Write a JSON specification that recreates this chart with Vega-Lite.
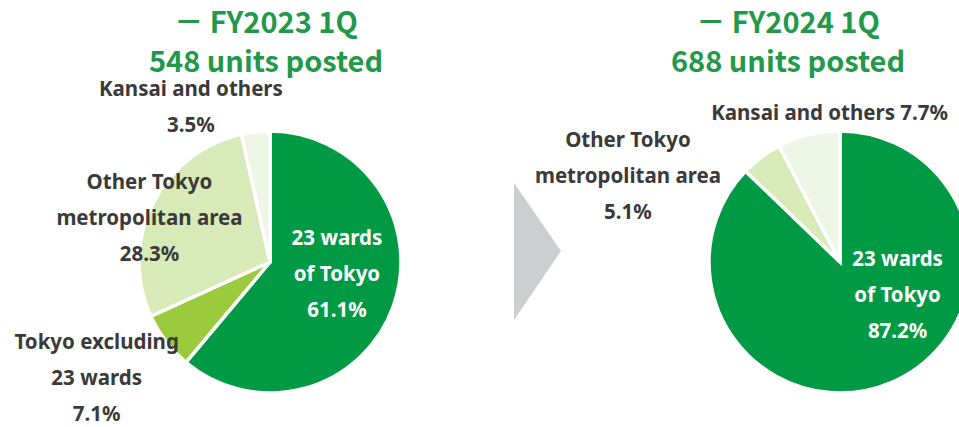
{
  "$schema": "https://vega.github.io/schema/vega-lite/v6.json",
  "width": 959,
  "height": 330,
  "padding": {"top": 97, "left": 0, "right": 0, "bottom": 0},
  "autosize": {"type": "none"},
  "background": "white",
  "config": {"view": {"stroke": null}},
  "encoding": {
    "x": {"field": "period", "type": "nominal", "axis": null,
      "scale": {"type": "point", "domain": ["FY2023 1Q", "→", "FY2024 1Q"], "range": [270, 840], "padding": 0}}
  },
  "layer": [
    {
      "data": {"values": [
        {"period": "FY2023 1Q", "region": "23 wards of Tokyo", "share": 61.1, "label": "23 wards\nof Tokyo\n61.1%"},
        {"period": "FY2023 1Q", "region": "Tokyo excluding 23 wards", "share": 7.1, "label": "Tokyo excluding\n23 wards\n7.1%"},
        {"period": "FY2023 1Q", "region": "Other Tokyo metropolitan area", "share": 28.3, "label": "Other Tokyo\nmetropolitan area\n28.3%"},
        {"period": "FY2023 1Q", "region": "Kansai and others", "share": 3.5, "label": "Kansai and others\n3.5%"},
        {"period": "FY2024 1Q", "region": "23 wards of Tokyo", "share": 87.2, "label": "23 wards\nof Tokyo\n87.2%"},
        {"period": "FY2024 1Q", "region": "Other Tokyo metropolitan area", "share": 5.1, "label": "Other Tokyo\nmetropolitan area\n5.1%"},
        {"period": "FY2024 1Q", "region": "Kansai and others", "share": 7.7, "label": "Kansai and others 7.7%"}
      ]},
      "transform": [
        {"stack": "share", "groupby": ["period"], "as": ["t0", "t1"]},
        {"calculate": "(datum.t0 + datum.t1) / 2", "as": "mid"}
      ],
      "layer": [
        {
          "mark": {"type": "arc", "radius": 131, "stroke": "white", "strokeWidth": 3.5},
          "encoding": {
            "theta": {"field": "t0", "type": "quantitative", "stack": null, "scale": {"domain": [0, 100]}},
            "theta2": {"field": "t1"},
            "color": {"field": "region", "type": "nominal", "legend": null,
              "scale": {"domain": ["23 wards of Tokyo", "Tokyo excluding 23 wards", "Other Tokyo metropolitan area", "Kansai and others"],
                "range": ["#009944", "#9bcb3d", "#d9eab9", "#eef6e5"]}}
          }
        },
        {
          "transform": [{"filter": "datum.period == 'FY2023 1Q' && datum.region == '23 wards of Tokyo'"}],
          "mark": {"type": "text", "radius": 68, "dx": 3, "dy": -46, "align": "center", "baseline": "middle", "lineBreak": "\n", "lineHeight": 36, "font": "Noto Sans", "fontWeight": "bold", "fontSize": 20.5, "fill": "white"},
          "encoding": {"theta": {"field": "mid", "type": "quantitative", "stack": null}, "text": {"field": "label"}}
        },
        {
          "transform": [{"filter": "datum.period == 'FY2023 1Q' && datum.region == 'Tokyo excluding 23 wards'"}],
          "mark": {"type": "text", "radius": 209, "dx": -7, "dy": -46, "align": "center", "baseline": "middle", "lineBreak": "\n", "lineHeight": 36, "font": "Noto Sans", "fontWeight": "bold", "fontSize": 20.5, "fill": "#3a3a3a"},
          "encoding": {"theta": {"field": "mid", "type": "quantitative", "stack": null}, "text": {"field": "label"}}
        },
        {
          "transform": [{"filter": "datum.period == 'FY2023 1Q' && datum.region == 'Other Tokyo metropolitan area'"}],
          "mark": {"type": "text", "radius": 128, "dx": -6, "dy": -22, "align": "center", "baseline": "middle", "lineBreak": "\n", "lineHeight": 36, "font": "Noto Sans", "fontWeight": "bold", "fontSize": 20.5, "fill": "#3a3a3a"},
          "encoding": {"theta": {"field": "mid", "type": "quantitative", "stack": null}, "text": {"field": "label"}}
        },
        {
          "transform": [{"filter": "datum.period == 'FY2023 1Q' && datum.region == 'Kansai and others'"}],
          "mark": {"type": "text", "radius": 165, "dx": -61, "dy": -8, "align": "center", "baseline": "middle", "lineBreak": "\n", "lineHeight": 36, "font": "Noto Sans", "fontWeight": "bold", "fontSize": 20.5, "fill": "#3a3a3a"},
          "encoding": {"theta": {"field": "mid", "type": "quantitative", "stack": null}, "text": {"field": "label"}}
        },
        {
          "transform": [{"filter": "datum.period == 'FY2024 1Q' && datum.region == '23 wards of Tokyo'"}],
          "mark": {"type": "text", "radius": 68, "dx": 31, "dy": -65, "align": "center", "baseline": "middle", "lineBreak": "\n", "lineHeight": 36, "font": "Noto Sans", "fontWeight": "bold", "fontSize": 20.5, "fill": "white"},
          "encoding": {"theta": {"field": "mid", "type": "quantitative", "stack": null}, "text": {"field": "label"}}
        },
        {
          "transform": [{"filter": "datum.period == 'FY2024 1Q' && datum.region == 'Other Tokyo metropolitan area'"}],
          "mark": {"type": "text", "radius": 180, "dx": -104, "dy": 23, "align": "center", "baseline": "middle", "lineBreak": "\n", "lineHeight": 36, "font": "Noto Sans", "fontWeight": "bold", "fontSize": 20.5, "fill": "#3a3a3a"},
          "encoding": {"theta": {"field": "mid", "type": "quantitative", "stack": null}, "text": {"field": "label"}}
        },
        {
          "transform": [{"filter": "datum.period == 'FY2024 1Q' && datum.region == 'Kansai and others'"}],
          "mark": {"type": "text", "radius": 152, "dx": 26, "dy": 0, "align": "center", "baseline": "middle", "lineBreak": "\n", "lineHeight": 36, "font": "Noto Sans", "fontWeight": "bold", "fontSize": 20.5, "fill": "#3a3a3a"},
          "encoding": {"theta": {"field": "mid", "type": "quantitative", "stack": null}, "text": {"field": "label"}}
        }
      ]
    },
    {
      "data": {"values": [{"period": "FY2023 1Q", "units": 548}]},
      "transform": [{"calculate": "'－ ' + datum.period + '\\n' + datum.units + ' units posted'", "as": "title"}],
      "mark": {"type": "text", "align": "center", "baseline": "alphabetic", "dx": -4, "dy": -229, "lineBreak": "\n", "lineHeight": 39, "font": "Noto Sans CJK JP", "fontWeight": "bold", "fontSize": 29, "fill": "#22994a"},
      "encoding": {"text": {"field": "title"}}
    },
    {
      "data": {"values": [{"period": "FY2024 1Q", "units": 688}]},
      "transform": [{"calculate": "'－ ' + datum.period + '\\n' + datum.units + ' units posted'", "as": "title"}],
      "mark": {"type": "text", "align": "center", "baseline": "alphabetic", "dx": -52, "dy": -229, "lineBreak": "\n", "lineHeight": 39, "font": "Noto Sans CJK JP", "fontWeight": "bold", "fontSize": 29, "fill": "#22994a"},
      "encoding": {"text": {"field": "title"}}
    },
    {
      "data": {"values": [{"period": "→"}]},
      "mark": {"type": "point", "filled": true, "opacity": 1, "fill": "#cdced0", "strokeWidth": 0, "size": 18769,
        "shape": "M -0.599 -1.153 L 0.088 -0.161 L -0.599 0.847 Z"},
      "encoding": {}
    }
  ]
}
